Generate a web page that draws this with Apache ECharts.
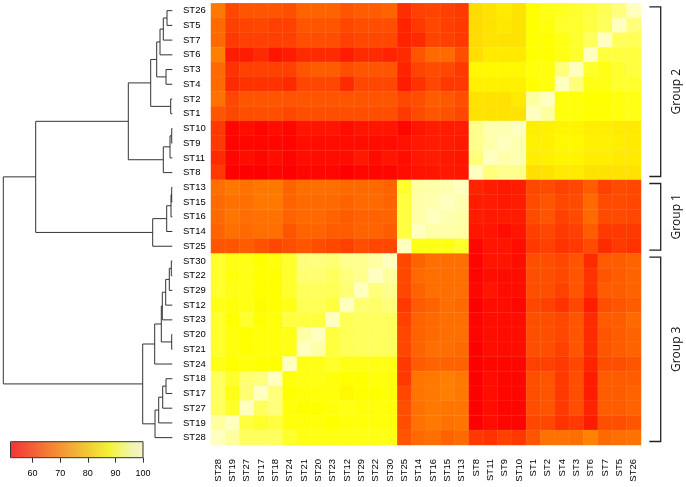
<!DOCTYPE html>
<html>
<head>
<meta charset="utf-8">
<script src="https://cdn.jsdelivr.net/npm/echarts@6/dist/echarts.min.js"></script>
<style>
  html, body { margin: 0; padding: 0; background: #fff; }
  #chart { width: 686px; height: 487px; }
</style>
</head>
<body>
<div id="chart"></div>
<script>
// row order of the heatmap, top to bottom (columns are the same list reversed)
const rowNames = ['ST26', 'ST5', 'ST7', 'ST6', 'ST3', 'ST4', 'ST2', 'ST1', 'ST10', 'ST9', 'ST11', 'ST8',
  'ST13', 'ST15', 'ST16', 'ST14', 'ST25',
  'ST30', 'ST22', 'ST29', 'ST12', 'ST23', 'ST20', 'ST21', 'ST24', 'ST18', 'ST17', 'ST27', 'ST19', 'ST28'];
const colNames = rowNames.slice().reverse();

// similarity values, one row per strain (row order above, column order = colNames)
const matrix = [
  [69, 62, 64, 64, 64, 63, 66, 66, 66, 64, 65, 65, 66, 58.5, 61, 61.5, 61, 60, 83, 84, 85, 84, 88, 89, 89.5, 90, 91, 92, 94, 100], // ST26
  [67, 61, 61.5, 62, 61, 61, 64, 64, 64, 62, 63, 63, 63, 57, 60, 62, 61, 60, 83, 84, 84.5, 84, 88, 88.5, 90, 90, 91, 92.5, 100, 94], // ST5
  [67, 60, 61, 61, 61, 61, 63, 63, 63, 61, 62, 62, 62, 57, 58, 61.5, 61, 60, 83, 84, 84, 84, 88, 88, 89, 90, 92.5, 100, 92.5, 92], // ST7
  [70, 56, 56, 58, 55, 56, 58, 58, 58, 56, 58, 58, 57, 58, 64, 67, 67, 63, 83.5, 85, 85, 85, 88, 88, 89, 90, 100, 91, 91, 91], // ST6
  [67, 59, 61, 61, 61, 61, 64, 65, 65, 63, 64, 64, 64, 57, 61.5, 62.5, 62, 60, 87, 87, 87, 87, 88.5, 88.5, 94, 100, 90, 89, 90, 91], // ST3
  [67, 58, 59, 59, 59, 58, 62, 62, 62, 58, 62, 62, 62, 56, 59, 62, 60, 60, 86, 86, 86, 86, 88, 88.5, 100, 94, 89, 89, 90, 90], // ST4
  [68, 62, 64, 64, 64, 64, 64, 64, 64, 64, 64, 64, 64, 62, 63, 65, 64.5, 63, 84, 84, 84, 85, 96, 100, 88.5, 88.5, 88, 88, 88.5, 89], // ST2
  [64, 62, 63, 63, 63, 62, 63, 63, 63, 63, 63, 63, 63, 60, 62.5, 64, 63.5, 62, 84, 84, 84, 84, 100, 96, 88.5, 88.5, 88, 88, 88.5, 89], // ST1
  [60, 53, 54, 53, 54, 53, 55, 55, 55, 54, 55, 55, 55, 53, 55, 56, 56, 56, 95, 98, 98, 100, 85.5, 86, 86.5, 86.5, 85.5, 85.5, 85, 85], // ST10
  [60, 52.5, 53, 53, 53, 52.5, 54, 54, 54, 54, 54, 54, 54, 54.5, 55.5, 56, 56, 55.5, 95, 97.5, 100, 98, 86, 86, 87, 87, 86, 86, 85.5, 85], // ST9
  [58, 53, 54, 53, 54, 52.5, 54, 54, 54, 54, 55.5, 54, 55, 54, 55.5, 56, 55.5, 55, 94, 100, 97.5, 98, 85.5, 86, 86.5, 86.5, 85.5, 85.5, 85, 85], // ST11
  [60, 52, 52, 52, 52.5, 52, 53, 53, 53, 52, 53, 53, 53, 54, 54.5, 55, 55.5, 55, 100, 94, 95, 95, 83.5, 84, 85, 85, 84, 84, 84, 84], // ST8
  [67.5, 69, 68, 69, 69, 66, 67.5, 67.5, 67.5, 67, 67, 67, 66, 90, 96.5, 97, 98, 100, 57, 56, 55.5, 56, 62, 62.5, 61, 62, 65, 61, 62.5, 62], // ST13
  [67, 68, 67.5, 69, 69, 66, 67, 67, 67, 66, 67, 67, 66, 91, 97, 98, 100, 98, 56, 56, 55.5, 56, 62.5, 64, 62, 62.5, 67, 62.5, 62.5, 62], // ST15
  [67, 68.5, 67.5, 68, 68, 66, 67, 67, 66, 65, 66, 66, 66, 91, 97, 100, 98, 97, 56, 55.5, 56, 56, 62.5, 64, 61, 62.5, 67, 62.5, 62.5, 62], // ST16
  [66, 67.5, 67, 67.5, 67.5, 64, 66, 66, 65, 65, 66, 66, 65, 91, 100, 97, 97, 96.5, 55, 55, 54, 55, 61, 62, 60, 61, 65, 60, 60, 60], // ST14
  [64, 64, 65, 63.5, 62, 63, 64, 63, 62, 61, 63, 62, 62, 100, 89, 89, 89, 90, 53, 55, 55, 54, 60, 61, 59, 60, 62.5, 58, 60, 59], // ST25
  [90, 89, 89, 88, 88.5, 90, 94, 94, 93.5, 95, 95, 96, 100, 62, 66, 67.5, 67.5, 67.5, 52.5, 55, 55, 54, 63, 63, 62, 64, 58, 65, 65, 66], // ST30
  [90, 88.5, 89, 88, 88, 90, 93.5, 93.5, 92.5, 94, 95, 100, 96, 62, 67, 67.5, 67.5, 67.5, 52.5, 54, 54, 54, 63, 63, 62, 64, 59, 64, 65, 66], // ST22
  [90, 89, 89, 88, 88, 90, 92.5, 92.5, 92, 93.5, 100, 94, 95, 62, 66, 67.5, 67.5, 67.5, 53, 55, 54, 54, 63, 63, 61, 64, 59, 65, 65, 66], // ST29
  [89, 88.5, 89, 87.5, 88, 89, 92, 92, 91, 100, 93.5, 93, 94, 60, 65, 66, 67.5, 67, 52, 54, 54, 53, 62, 61, 59, 62, 56, 63, 64, 65], // ST12
  [90, 88, 90, 88, 88.5, 91, 91, 91, 100, 92, 92.5, 92.5, 92.5, 61, 66, 67, 67.5, 67.5, 52.5, 54, 54, 54, 63, 63, 62, 64, 58, 65, 65, 67], // ST23
  [90, 88.5, 88, 88.5, 88.5, 89, 97, 100, 91, 92, 92.5, 92.5, 92.5, 62, 66, 67, 67.5, 67.5, 52.5, 54, 54, 54, 63, 63, 62, 64, 58, 64, 65, 66], // ST20
  [90, 88.5, 88, 88.5, 88.5, 89, 100, 97, 91, 92, 92.5, 92.5, 92.5, 62, 66, 67.5, 67.5, 67, 52, 54, 54, 54, 63, 63, 61, 64, 58, 64, 65, 66], // ST21
  [89, 88, 88.5, 88, 88, 100, 89, 89, 90, 89, 89, 89, 89, 60, 65, 66, 66, 66, 52, 53, 53, 53, 61, 61, 60, 62, 57, 63, 63, 64], // ST24
  [92.5, 90, 93.5, 94, 100, 88.5, 89, 89, 88.5, 88, 88, 88.5, 88.5, 60, 68.5, 69, 70, 69, 52, 54, 53, 53, 63, 64, 60, 63, 56, 65, 65, 65], // ST18
  [92.5, 89, 93.5, 100, 94, 88, 88.5, 88.5, 88.5, 87, 88, 88, 88.5, 62, 68.5, 69, 70, 69, 52, 54, 53, 53, 63, 64, 60, 63, 56, 65, 65, 66], // ST17
  [92.5, 90, 100, 92.5, 94, 88.5, 88, 88, 88.5, 89, 88.5, 88.5, 88.5, 63, 68, 69, 68.5, 68.5, 52, 54, 53, 53, 63, 64, 60, 63, 57, 65, 65, 66], // ST27
  [96, 100, 91, 90, 91, 88.5, 88.5, 88.5, 88, 88.5, 88.5, 88.5, 88.5, 63, 68, 69, 68, 68.5, 52, 54, 53, 52.5, 62, 62, 59, 60, 56, 63, 63, 64], // ST19
  [100, 96, 92.5, 92.5, 92.5, 90, 89, 89, 89, 89, 89, 89, 89, 64, 67, 67.5, 66, 67, 60, 59, 61, 60, 64, 68, 68, 67.5, 70.5, 67, 67.5, 68] // ST28
];

// colour key
const scaleMin = 52;
const scaleMax = 100;
const legendTicks = [60, 70, 80, 90, 100];
const heatColors = ['#FF0000', '#FF1C00', '#FF3900', '#FF5500', '#FF7100', '#FF8E00', '#FFAA00',
  '#FFC600', '#FFE300', '#FFFF00', '#FFFF55', '#FFFFA0', '#FFFFC0'];

// dendrogram merges [left, right, height]; mN refers to the N-th merge
const merges = [
  ['ST26', 'ST5', 5.3], ['m0', 'ST7', 9], ['m1', 'ST6', 12.3], ['ST3', 'ST4', 6.3], ['m2', 'm3', 15.6],
  ['ST2', 'ST1', 1.6], ['m4', 'm5', 21.6], ['ST10', 'ST9', 0.6], ['m7', 'ST11', 2.3], ['m8', 'ST8', 9],
  ['m6', 'm9', 44],
  ['ST13', 'ST15', 0.6], ['m11', 'ST16', 1.3], ['m12', 'ST14', 5.6], ['m13', 'ST25', 19.6],
  ['m10', 'm14', 136.6],
  ['ST30', 'ST22', 1], ['m16', 'ST29', 3], ['m17', 'ST12', 6.6], ['m18', 'ST23', 10], ['ST20', 'ST21', 0.6],
  ['m19', 'm20', 11], ['m21', 'ST24', 17.6], ['ST18', 'ST17', 6.3], ['m23', 'ST27', 9.6], ['m24', 'ST19', 13.6],
  ['m25', 'ST28', 17.3], ['m22', 'm26', 29.6],
  ['m15', 'm27', 169]
];

// group brackets on the right
const groupLabels = ['Group 2', 'Group 1', 'Group 3'];
const groupFirst = ['ST26', 'ST13', 'ST30'];
const groupLast = ['ST8', 'ST25', 'ST28'];

const heatData = [];
matrix.forEach((row, i) => {
  row.forEach((v, j) => heatData.push([j, i, v]));
});

const nodeY = {};
const nodeH = {};
rowNames.forEach((n, i) => { nodeY[n] = i; nodeH[n] = 0; });
const dendroData = merges.map((m, k) => {
  const [a, b, h] = m;
  nodeY['m' + k] = (nodeY[a] + nodeY[b]) / 2;
  nodeH['m' + k] = h;
  return [h, nodeY[a], nodeY[b], nodeH[a], nodeH[b]];
});

const groupData = groupFirst.map((f, i) => [rowNames.indexOf(f), rowNames.indexOf(groupLast[i])]);

function fade(hex, a) {
  const r = parseInt(hex.slice(1, 3), 16), g = parseInt(hex.slice(3, 5), 16), b = parseInt(hex.slice(5, 7), 16);
  return `rgba(${r},${g},${b},${a})`;
}

const labelFont = 'Liberation Sans, Arial, sans-serif';

const chart = echarts.init(document.getElementById('chart'));
chart.setOption({
  animation: false,
  backgroundColor: '#fff',
  grid: [
    { left: 211, top: 3.3, width: 430, height: 441.7 },
    { left: 3.3, top: 3.3, width: 169, height: 441.7 },
    { left: 10.5, top: 441.7, width: 132.5, height: 16, show: true, z: 10,
      backgroundColor: 'transparent', borderColor: '#333', borderWidth: 1 }
  ],
  xAxis: [
    {
      type: 'category', gridIndex: 0, data: colNames,
      axisLine: { show: false }, axisTick: { show: false },
      axisLabel: { interval: 0, rotate: 90, margin: 14, fontSize: 9.5, color: '#000', fontFamily: labelFont }
    },
    { type: 'value', gridIndex: 1, min: 0, max: 169, inverse: true, show: false },
    {
      type: 'value', gridIndex: 2, min: scaleMin, max: scaleMax,
      axisLine: { show: false }, splitLine: { show: false },
      axisTick: { show: true, customValues: legendTicks, length: 5, lineStyle: { color: '#333' } },
      axisLabel: { customValues: legendTicks, margin: 11, fontSize: 9, color: '#000', fontFamily: labelFont }
    }
  ],
  yAxis: [
    {
      type: 'category', gridIndex: 0, data: rowNames, inverse: true,
      axisLine: { show: false }, axisTick: { show: false },
      axisLabel: { interval: 0, align: 'left', margin: 28, fontSize: 9.5, color: '#000', fontFamily: labelFont }
    },
    { type: 'value', gridIndex: 1, min: -0.5, max: 29.5, inverse: true, show: false },
    { type: 'value', gridIndex: 2, min: 0, max: 1, show: false }
  ],
  visualMap: [
    {
      type: 'continuous', min: scaleMin, max: scaleMax, seriesIndex: 0, dimension: 2,
      show: false, inRange: { color: heatColors }
    },
    {
      type: 'continuous', min: scaleMin, max: scaleMax, seriesIndex: [],
      orient: 'horizontal', left: 10.5, top: 441.7, itemWidth: 16, itemHeight: 132.5,
      padding: 0, calculable: false, hoverLink: false,
      inRange: { color: heatColors.map(c => fade(c, 0.75)) }
    }
  ],
  series: [
    {
      type: 'heatmap', xAxisIndex: 0, yAxisIndex: 0, data: heatData, progressive: 0,
      itemStyle: { borderColor: 'rgba(255,255,255,0.12)', borderWidth: 0.5 }
    },
    {
      type: 'custom', xAxisIndex: 1, yAxisIndex: 1, data: dendroData, clip: false, silent: true,
      encode: { x: 0, y: 1 },
      renderItem: (params, api) => {
        const h = api.value(0), ya = api.value(1), yb = api.value(2), ha = api.value(3), hb = api.value(4);
        return {
          type: 'polyline',
          shape: { points: [api.coord([ha, ya]), api.coord([h, ya]), api.coord([h, yb]), api.coord([hb, yb])] },
          style: { stroke: '#333', lineWidth: 1, fill: null }
        };
      }
    },
    {
      type: 'custom', xAxisIndex: 0, yAxisIndex: 0, data: groupData, clip: false, silent: true,
      renderItem: (params, api) => {
        const band = api.size([0, 1])[1];
        const cs = params.coordSys;
        const right = cs.x + cs.width;
        const top = api.coord([0, api.value(0)])[1] - band / 2 + 3.5;
        const bottom = api.coord([0, api.value(1)])[1] + band / 2 - 3.5;
        const xv = right + 19.7, xt = right + 8.3;
        return {
          type: 'group',
          children: [
            {
              type: 'polyline',
              shape: { points: [[xt, top], [xv, top], [xv, bottom], [xt, bottom]] },
              style: { stroke: '#222', lineWidth: 1.3, fill: null }
            },
            {
              type: 'text', x: right + 36, y: (top + bottom) / 2, rotation: Math.PI / 2,
              style: {
                text: groupLabels[params.dataIndex], fill: '#111', fontSize: 12,
                fontFamily: 'Open Sans', align: 'center', verticalAlign: 'middle'
              }
            }
          ]
        };
      }
    }
  ]
});
</script>
</body>
</html>
